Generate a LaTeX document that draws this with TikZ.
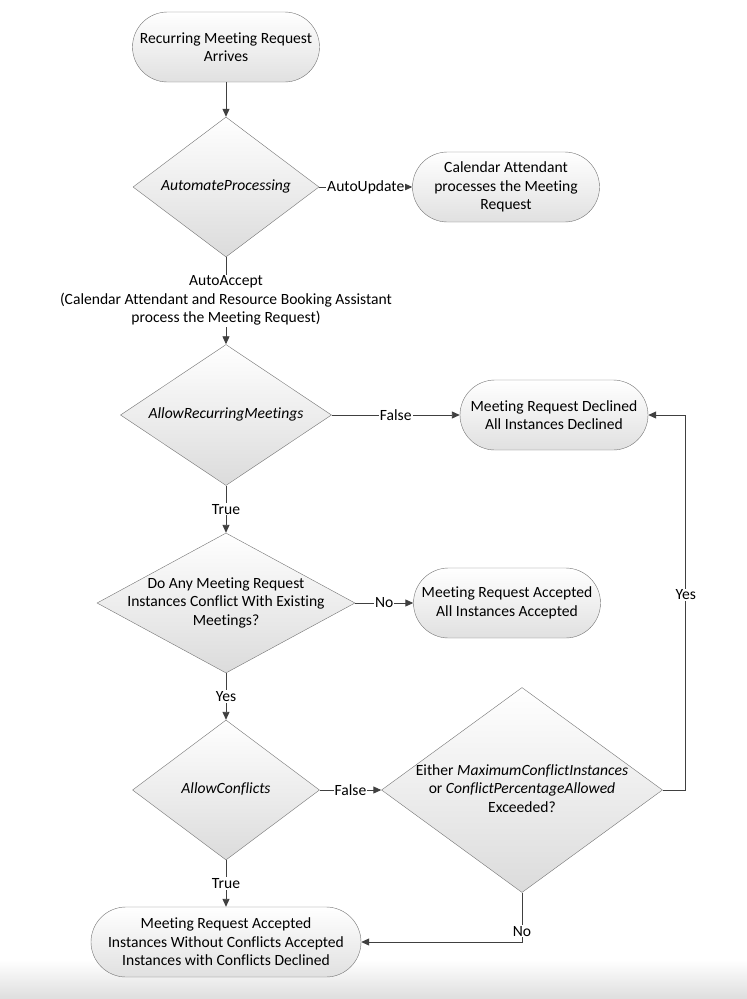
\documentclass[tikz,border=0pt]{standalone}
\usepackage{fontspec}
\setmainfont{Carlito}[Ligatures=NoCommon]
\usetikzlibrary{shapes.geometric,arrows.meta}

\tikzset{
  term/.style={draw=black!55, rectangle, rounded corners=35pt, top color=white, bottom color=black!12,
    minimum width=187pt, minimum height=70pt, inner sep=0pt, align=center},
  dec/.style={draw=black!55, diamond, top color=white, bottom color=black!14, inner sep=0pt},
  arr/.style={draw=black!75, line width=0.9pt, -{Triangle[length=8pt,width=7pt]}},
  lbl/.style={fill=white, inner sep=1pt},
}
% text of a diamond, kept out of the shape size
\newcommand{\dtext}[1]{\makebox[0pt]{\begin{tabular}{@{}c@{}}#1\end{tabular}}}

\begin{document}
\begin{tikzpicture}[x=1pt,y=-1pt,font=\fontsize{15.6}{18.5}\selectfont]
\useasboundingbox (0,0) rectangle (747,999);
\shade[top color=white, bottom color=black!13] (0,960) rectangle (747,999); % paper shadow

\node[term] (start) at (226,47) {Recurring Meeting Request\\Arrives};
\node[dec, minimum width=186pt, minimum height=140pt] (proc) at (226,187) {\dtext{\textit{AutomateProcessing}}};
\node[term] (attend) at (506,187) {Calendar Attendant\\processes the Meeting\\Request};
\node[dec, minimum width=211pt, minimum height=141pt] (recur) at (226,415) {\dtext{\textit{AllowRecurringMeetings}}};
\node[term, minimum width=188pt] (declall) at (554,415) {Meeting Request Declined\\All Instances Declined};
\node[dec, minimum width=258pt, minimum height=140pt] (conf) at (226,603)
  {\dtext{Do Any Meeting Request\\Instances Conflict With Existing\\Meetings?}};
\node[term] (accall) at (507,603) {Meeting Request Accepted\\All Instances Accepted};
\node[dec, minimum width=187pt, minimum height=140pt] (allow) at (226,790) {\dtext{\textit{AllowConflicts}}};
\node[dec, minimum width=281pt, minimum height=205pt] (exceed) at (522,790)
  {\dtext{Either \textit{MaximumConflictInstances}\\or \textit{ConflictPercentageAllowed}\\Exceeded?}};
\node[term, minimum width=270pt] (partial) at (226,942)
  {Meeting Request Accepted\\Instances Without Conflicts Accepted\\Instances with Conflicts Declined};

\draw[arr] (start) -- (proc);
\draw[arr] (proc) -- node[lbl] {AutoUpdate} (attend);
\draw[arr] (proc) -- node[lbl, align=center] {AutoAccept\\(Calendar Attendant and Resource Booking Assistant\\process the Meeting Request)} (recur);
\draw[arr] (recur) -- node[lbl] {False} (declall);
\draw[arr] (recur) -- node[lbl] {True} (conf);
\draw[arr] (conf) -- node[lbl] {No} (accall);
\draw[arr] (conf) -- node[lbl] {Yes} (allow);
\draw[arr] (allow) -- node[lbl] {False} (exceed);
\draw[arr] (allow) -- node[lbl] {True} (partial);
\draw[arr] (exceed.east) -- ++(23,0) |- node[lbl, pos=0.26] {Yes} (declall.east);
\draw[arr] (exceed.south) |- node[lbl, pos=0.39] {No} (partial.east);
\end{tikzpicture}
\end{document}
